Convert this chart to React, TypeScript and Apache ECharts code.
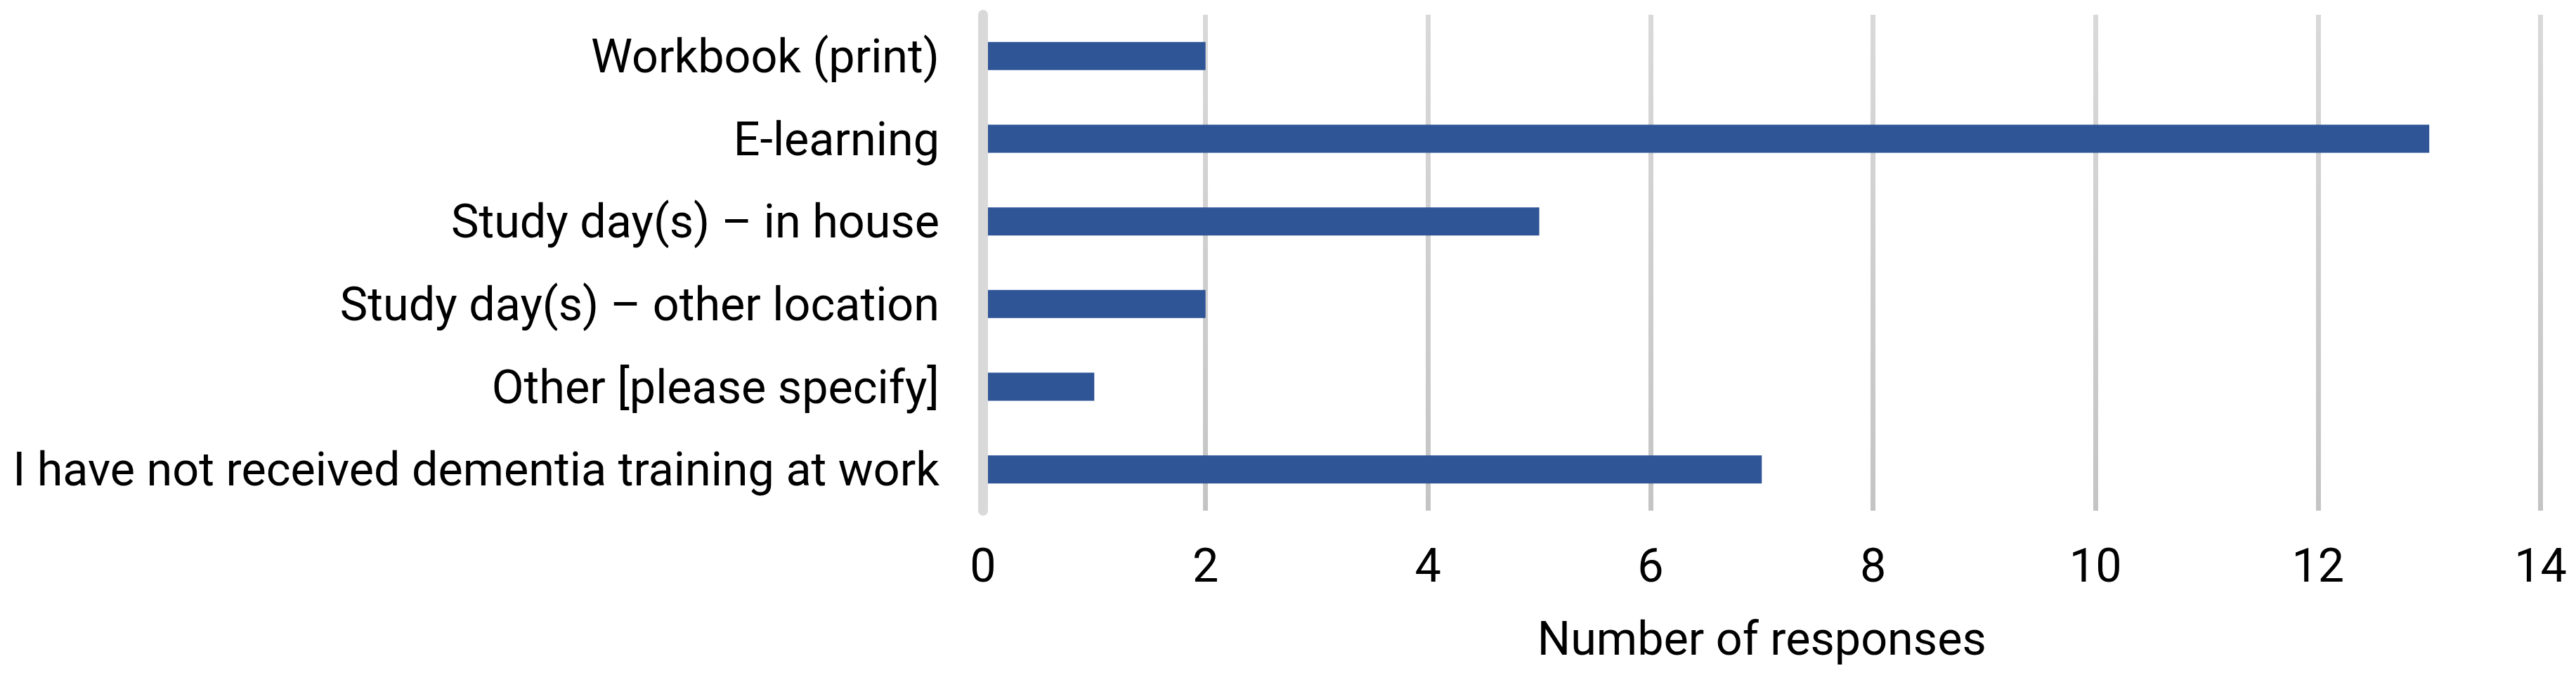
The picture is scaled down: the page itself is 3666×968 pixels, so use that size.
import React, { useEffect, useRef } from "react";
import * as echarts from "echarts";

const categories = [
  "Workbook (print)",
  "E-learning",
  "Study day(s) – in house",
  "Study day(s) – other location",
  "Other [please specify]",
  "I have not received dementia training at work",
];
const values = [2, 13, 5, 2, 1, 7];
const xAxisName = "Number of responses";

export default function App() {
  const ref = useRef<HTMLDivElement>(null);
  useEffect(() => {
    if (!ref.current) return;
    const chart = echarts.init(ref.current, null, { renderer: "svg" });
    const font = "Roboto";
    chart.setOption({
      animation: false,
      backgroundColor: "#ffffff",
      grid: { left: 1399, right: 50.5, top: 21, bottom: 241, containLabel: false },
      xAxis: {
        type: "value",
        min: 0,
        max: 14,
        interval: 2,
        name: xAxisName,
        nameLocation: "middle",
        nameGap: 148,
        nameTextStyle: { fontFamily: font, fontSize: 66.5, color: "#000" },
        axisLine: { show: false },
        axisTick: { show: false },
        axisLabel: { fontFamily: font, fontSize: 66.5, color: "#000", margin: 44 },
        splitLine: {
          show: true,
          lineStyle: {
            width: 7,
            color: new echarts.graphic.LinearGradient(0, 21, 0, 727, [
              { offset: 0, color: "#d9d9d9" },
              { offset: 1, color: "#c4c4c4" },
            ], true),
          },
        },
      },
      yAxis: {
        type: "category",
        data: categories,
        inverse: true,
        z: 5,
        axisLine: { show: true, lineStyle: { color: "#d9d9d9", width: 14 } },
        axisTick: { show: false },
        axisLabel: { fontFamily: font, fontSize: 66.5, color: "#000", margin: 62 },
        splitLine: { show: false },
      },
      series: [
        {
          type: "bar",
          data: values,
          barWidth: 40,
          itemStyle: { color: "#2f5597" },
        },
      ],
    });
    return () => chart.dispose();
  }, []);
  return (
    <div
      ref={ref}
      style={{ position: "fixed", left: 0, top: 0, width: 3666, height: 968 }}
    />
  );
}
